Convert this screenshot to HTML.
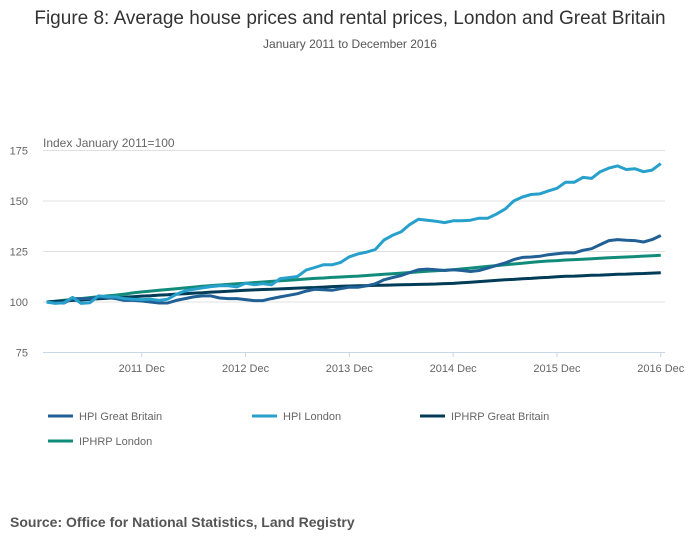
<!DOCTYPE html>
<html><head><meta charset="utf-8"><style>
body{margin:0;width:700px;height:549px;background:#fff;font-family:"Liberation Sans",sans-serif;overflow:hidden}
svg{position:absolute;left:0;top:0}
</style></head><body>
<svg id="c" width="700" height="549">
<text x="350" y="24" text-anchor="middle" font-size="19" fill="#333">Figure 8: Average house prices and rental prices, London and Great Britain</text>
<text x="350" y="48" text-anchor="middle" font-size="12" fill="#555">January 2011 to December 2016</text>
<text x="43" y="147" font-size="12" fill="#666">Index January 2011=100</text>
<text x="10" y="527" font-size="14" font-weight="bold" fill="#555">Source: Office for National Statistics, Land Registry</text>
<g id="grid"></g><g id="lines"></g><g id="legend"></g>
</svg>
<script>
const yTicks=[75,100,125,150,175];
const xTickLabels=["2011 Dec","2012 Dec","2013 Dec","2014 Dec","2015 Dec","2016 Dec"];
const xTickMonths=[11,23,35,47,59,71];
const seriesNames=["HPI Great Britain","HPI London","IPHRP Great Britain","IPHRP London"];
const hpiGB=[100,99.5,99.5,101.7,101.7,101.7,102.5,102.2,101.7,100.8,100.8,100.5,
100,99.5,99.5,100.8,101.7,102.5,103,103,102,101.7,101.7,101.2,
100.7,100.7,101.7,102.5,103.3,104.1,105.4,106.3,106.1,105.8,106.6,107.4,
107.3,108,109,111,112.1,113.1,114.6,116,116.3,116,115.6,116,
115.6,115.1,115.6,116.8,118.1,119.3,121,122.1,122.3,122.6,123.4,123.9,
124.3,124.3,125.6,126.4,128.4,130.4,130.9,130.6,130.4,129.7,130.9,132.9];
const hpiLondon=[100,99.3,99.6,102.3,99.3,99.6,103,102.5,102.5,101.7,101.4,101.2,
101.4,100.8,101.4,103.8,105.5,106.3,107,107.6,108,108,107.5,109.3,
108.5,109.1,108.5,111.6,112.1,112.6,115.8,117.1,118.4,118.4,119.6,122.4,
123.8,124.7,126,130.7,133,134.8,138.4,141,140.5,140,139.3,140.2,
140.2,140.5,141.5,141.5,143.5,146,150,152,153.2,153.5,155,156.3,
159.3,159.3,161.7,161.2,164.5,166.3,167.4,165.6,166,164.5,165.3,168.5];
const iphrpGB=[100,100.3,100.5,100.8,101,101.3,101.6,101.9,102.1,102.4,102.6,102.9,
103.1,103.4,103.6,103.9,104.1,104.4,104.6,104.9,105.1,105.3,105.6,105.8,
106,106.2,106.3,106.5,106.7,106.9,107.1,107.2,107.4,107.6,107.8,107.9,
108,108.1,108.2,108.3,108.4,108.5,108.6,108.7,108.8,108.9,109.1,109.2,
109.5,109.8,110.1,110.4,110.7,111,111.2,111.5,111.7,112,112.2,112.5,
112.7,112.8,113,113.2,113.3,113.5,113.7,113.8,114,114.1,114.3,114.5];
const iphrpLondon=[100,100.4,100.9,101.3,101.7,102.2,102.6,103,103.4,103.9,104.5,105,
105.4,105.8,106.2,106.6,107,107.4,107.8,108.1,108.4,108.7,109,109.3,
109.6,109.9,110.2,110.5,110.8,111.1,111.4,111.7,111.9,112.2,112.4,112.6,
112.8,113.1,113.4,113.7,114,114.3,114.6,114.9,115.2,115.5,115.7,116,
116.4,116.8,117.2,117.6,118,118.4,118.8,119.2,119.6,120,120.3,120.5,
120.8,121,121.2,121.4,121.7,121.9,122.1,122.3,122.5,122.7,122.9,123.1];
const colors=["#206095","#27a0cc","#003c57","#118c7b"];
const NS="http://www.w3.org/2000/svg";
const x=m=>46.6+m*8.65;
const y=v=>302-(v-100)*2.02;
function mk(tag,attrs,parent){const e=document.createElementNS(NS,tag);for(const k in attrs)e.setAttribute(k,attrs[k]);parent.appendChild(e);return e;}
const grid=document.getElementById('grid');
yTicks.forEach((t,i)=>{
  const l=mk('line',{x1:43,x2:665,y1:y(t),y2:y(t),stroke:i===0?'#c8d6e8':'#e0e0e0','stroke-width':1},grid);
  
  
  const tx=mk('text',{x:28,y:y(t)+4,'text-anchor':'end','font-size':11,fill:'#666'},grid);
  tx.textContent=t;
  
  
});
xTickMonths.forEach((m,i)=>{
  const l=mk('line',{x1:x(m),x2:x(m),y1:352,y2:357,stroke:'#c8d6e8'},grid);
  
  
  const tx=mk('text',{x:x(m),y:372,'text-anchor':'middle','font-size':11,fill:'#666'},grid);
  tx.textContent=xTickLabels[i];
  
  
});
const data=[hpiGB,hpiLondon,iphrpGB,iphrpLondon];
const lines=document.getElementById('lines');
const order=[3,2,0,1];
order.forEach(i=>{
  const d=data[i].map((v,m)=>(m?'L':'M')+x(m).toFixed(1)+','+y(v).toFixed(1)).join('');
  const p=mk('path',{d:d,fill:'none',stroke:colors[i],'stroke-width':3,'stroke-linejoin':'round'},lines);
  
  
});
const legend=document.getElementById('legend');
const lpos=[[48,416],[252,416],[420,416],[48,441]];
seriesNames.forEach((n,i)=>{
  const g=mk('g',{},legend);
  
  
  mk('line',{x1:lpos[i][0],x2:lpos[i][0]+25,y1:lpos[i][1],y2:lpos[i][1],stroke:colors[i],'stroke-width':3},g);
  const t=mk('text',{x:lpos[i][0]+31,y:lpos[i][1]+4,'font-size':11,fill:'#666'},g);
  t.textContent=n;
});
</script>
</body></html>
